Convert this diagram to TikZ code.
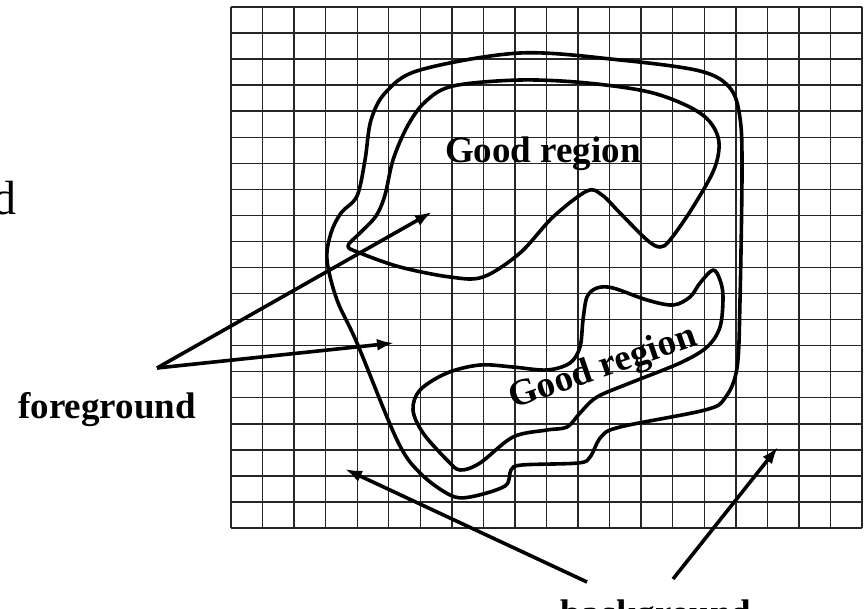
\documentclass[tikz,border=0pt]{standalone}
\usepackage{fontspec}
\setmainfont{Liberation Serif}
\usetikzlibrary{arrows.meta}

\tikzset{
  gridline/.style={line width=1.4pt, black!85},
  boundary/.style={line width=3.6pt, line join=round},
  pointer/.style={line width=3.6pt, -{Latex[length=17pt,width=12pt]}},
  lbl/.style={font=\fontsize{37}{40}\selectfont\bfseries, inner sep=0pt}
}

\begin{document}
\begin{tikzpicture}[x=1pt, y=-1pt]

    \useasboundingbox (0,0) rectangle (866,609);
    \clip (0,0) rectangle (866,609);

    % the grid
    \foreach \i in {0,...,20}{
       \draw[gridline] (231+\i*31.55, 7) to (231+\i*31.55, 528);
       \draw[gridline] (231, 7+\i*26.05) to (862, 7+\i*26.05);
    }

    % outer boundary
    \draw[boundary] plot[smooth cycle, tension=0.55] coordinates {
       (520,53) (620,60) (700,71) (730,88) (740,118) (742,170)
       (740,300) (737,368) (725,398) (705,410) (620,427) (601,437)
       (590,457) (578,463) (522,465) (511,470) (505,486) (470,497)
       (450,495) (420,473) (397,440) (357,343) (337,300) (327,260)
       (331,233) (341,213) (357,196) (365,160) (371,120) (386,92)
       (420,70)};

    % upper good region
    \draw[boundary] plot[smooth cycle, tension=0.55] coordinates {
       (520,80) (587,83) (653,93) (700,113) (718,137) (715,167)
       (693,207) (670,240) (660,247) (647,240) (620,213) (602,195)
       (587,191) (553,217) (520,253) (483,277) (450,277) (400,267)
       (360,253) (348,246) (360,233) (376,216) (385,195) (393,160)
       (407,127) (425,102) (453,86)};

    % lower good region
    \draw[boundary] plot[smooth cycle, tension=0.55] coordinates {
       (713,270) (700,283) (690,297) (673,305) (647,300) (613,288)
       (597,288) (587,297) (583,320) (580,347) (570,363) (547,370)
       (513,367) (480,365) (447,373) (420,390) (413,410) (423,433)
       (447,460) (460,470) (480,463) (513,437) (547,430) (567,427)
       (580,413) (597,397) (630,383) (680,363) (707,347) (720,327)
       (723,297) (720,280)};

    % labels
    \node[lbl, anchor=base] (goodtop) at (543,163) {Good region};
    \node[lbl, anchor=base, rotate=19] (goodlow) at (606,377) {Good region};
    \node[lbl, anchor=base] (fg) at (107,418) {foreground};
    \node[lbl, anchor=base] (bg) at (656,625) {background};
    \node[font=\fontsize{48}{50}\selectfont, inner sep=0pt, anchor=base east] (cut) at (17,215) {d};

    % pointers
    \coordinate (fgapex) at (157,368);
    \coordinate (fgup) at (432,212);
    \coordinate (fgdown) at (394,343);
    \coordinate (bgleft) at (587,582);
    \coordinate (bgright) at (673,579);
    \coordinate (bgin) at (345,469);
    \coordinate (bgout) at (778,447);
    \draw[pointer] (fgapex) to (fgup);
    \draw[pointer] (fgapex) to (fgdown);
    \draw[pointer] (bgleft) to (bgin);
    \draw[pointer] (bgright) to (bgout);

\end{tikzpicture}
\end{document}
